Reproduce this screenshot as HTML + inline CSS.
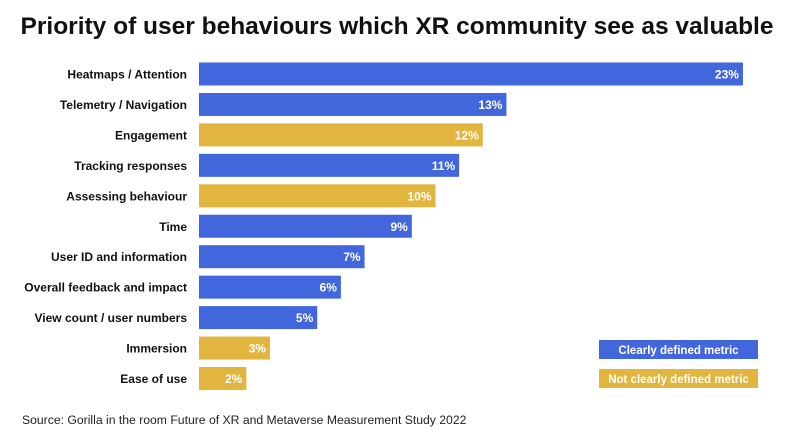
<!DOCTYPE html>
<html><head><meta charset="utf-8"><style>
body{margin:0;background:#fff;font-family:"Liberation Sans",Arial,sans-serif;}
#wrap{position:relative;width:800px;height:448px;overflow:hidden;}
</style></head><body>
<div id="wrap">
<svg id="chart" width="800" height="448">
<text x="397" y="34" text-anchor="middle" font-size="24.5" font-weight="bold" fill="#111">Priority of user behaviours which XR community see as valuable</text>
<text x="22" y="424" font-size="12.2" fill="#222">Source: Gorilla in the room Future of XR and Metaverse Measurement Study 2022</text>
<g>
<rect x="599" y="340" width="159" height="19" fill="#4267DD"/>
<text x="678.5" y="354" text-anchor="middle" font-size="11.5" font-weight="bold" fill="#fff">Clearly defined metric</text>
<rect x="599" y="369" width="159" height="19" fill="#E2B53F"/>
<text x="678.5" y="383" text-anchor="middle" font-size="11.5" font-weight="bold" fill="#fff">Not clearly defined metric</text>
</g>
<g id="bars"></g>
</svg>
</div>
<script>
const categories=["Heatmaps / Attention","Telemetry / Navigation","Engagement","Tracking responses","Assessing behaviour","Time","User ID and information","Overall feedback and impact","View count / user numbers","Immersion","Ease of use"];
const values=[23,13,12,11,10,9,7,6,5,3,2];
const clearlyDefined=[true,true,false,true,false,true,true,true,true,false,false];
const ns="http://www.w3.org/2000/svg";
const x0=199, pxPer=23.65, y0=74, pitch=30.45, bh=23;
const xs=v=>x0+v*pxPer;
const ys=i=>y0+i*pitch;
const g=document.getElementById('bars');
categories.forEach((c,i)=>{
  const cy=ys(i);
  const lab=document.createElementNS(ns,'text');
  
  
  lab.setAttribute('x',187);lab.setAttribute('y',cy+4.5);
  lab.setAttribute('text-anchor','end');lab.setAttribute('font-size','12');
  lab.setAttribute('font-weight','bold');lab.setAttribute('fill','#111');
  lab.textContent=c;g.appendChild(lab);
  const r=document.createElementNS(ns,'rect');
  
  
  r.setAttribute('x',x0);r.setAttribute('y',cy-bh/2);
  r.setAttribute('width',xs(values[i])-x0);r.setAttribute('height',bh);
  r.setAttribute('fill',clearlyDefined[i]?'#4267DD':'#E2B53F');
  g.appendChild(r);
  const t=document.createElementNS(ns,'text');
  
  
  t.setAttribute('x',xs(values[i])-4);t.setAttribute('y',cy+4.5);
  t.setAttribute('text-anchor','end');t.setAttribute('font-size','12');
  t.setAttribute('font-weight','bold');t.setAttribute('fill','#fff');
  t.textContent=values[i]+'%';g.appendChild(t);
});
</script>
</body></html>
